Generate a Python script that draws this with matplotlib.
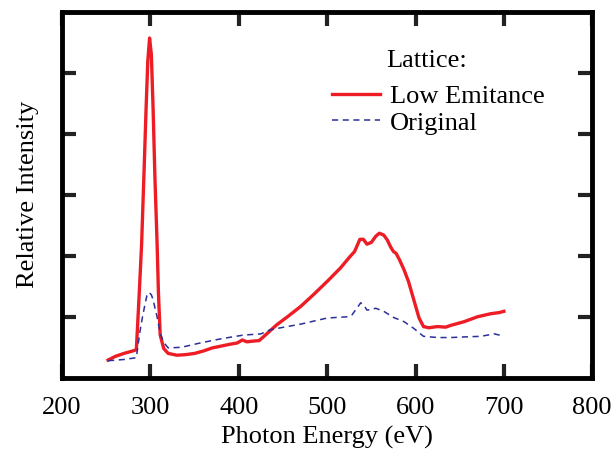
import matplotlib
matplotlib.use("Agg")
import matplotlib.pyplot as plt

plt.rcParams['font.family'] = ['Liberation Serif', 'DejaVu Serif']

# Low emitance lattice (red, solid)
low_x = [252, 260, 270, 280, 284, 287, 290, 293, 295, 297, 299, 301, 303, 305,
         307.5, 309, 311, 315, 320, 330, 340, 350, 360, 370, 380, 390, 398, 404,
         409, 415, 423, 430, 443, 455, 470, 485, 500, 515, 526, 531, 537, 541, 545,
         550, 555, 559, 564, 568, 572, 575, 578, 582, 587, 592, 598, 604, 609, 615,
         625, 634, 640, 655, 670, 685, 695, 700]
low_y = [0.29, 0.35, 0.40, 0.44, 0.46, 1.3, 2.2, 3.5, 4.4, 5.2, 5.57, 5.3, 4.4, 3.3,
         2.2, 1.4, 0.70, 0.48, 0.40, 0.37, 0.38, 0.40, 0.44, 0.49, 0.52, 0.55, 0.57, 0.62,
         0.59, 0.60, 0.61, 0.70, 0.87, 1.00, 1.17, 1.37, 1.58, 1.80, 1.99, 2.07, 2.27, 2.27, 2.19,
         2.22, 2.32, 2.37, 2.34, 2.26, 2.14, 2.07, 2.04, 1.93, 1.77, 1.58, 1.28, 0.98, 0.84, 0.82,
         0.84, 0.83, 0.86, 0.92, 1.00, 1.05, 1.07, 1.09]

# Original lattice (blue, dashed)
orig_x = [252, 270, 284, 288, 291, 294, 296, 298.5, 301, 303, 305, 307.5, 311, 315,
          320, 335, 356, 380, 405, 425, 436, 455, 470, 500, 523, 528, 533, 538, 542,
          545, 550, 555, 564, 575, 587, 598, 609, 625, 640, 655, 674, 689, 695, 700]
orig_y = [0.28, 0.30, 0.33, 0.75, 1.0, 1.22, 1.35, 1.40, 1.36, 1.28, 1.15, 1.0, 0.73, 0.58,
          0.49, 0.50, 0.57, 0.64, 0.70, 0.72, 0.79, 0.84, 0.88, 0.98, 1.0, 1.03, 1.13, 1.23, 1.18,
          1.11, 1.12, 1.14, 1.09, 0.99, 0.92, 0.81, 0.68, 0.66, 0.66, 0.67, 0.68, 0.72, 0.70, 0.68]

fig = plt.figure(figsize=(6.15, 4.53), dpi=100)
ax = fig.add_axes([0.101, 0.166, 0.862, 0.808])

ax.plot(low_x, low_y, color='#ee1c25', lw=2.4, label='Low Emitance')
ax.plot(orig_x, orig_y, color='#2b2f9a', lw=1.1, ls=(0, (4, 3)), label='Original')

ax.set_xlim(200, 800)
ax.set_ylim(0, 6)
ax.set_xticks([200, 300, 400, 500, 600, 700, 800])
ax.set_yticks([1, 2, 3, 4, 5])
ax.set_yticklabels([])
ax.tick_params(direction='in', length=10, width=3, top=True, right=True,
               labelsize=19, pad=14, color='#222222')
ax.tick_params(axis='y', pad=7)
for s in ax.spines.values():
    s.set_linewidth(3.5)

ax.set_xlabel('Photon Energy (eV)', fontsize=19, labelpad=5)
ax.set_ylabel('Relative Intensity', fontsize=19, labelpad=10)

ax.text(0.612, 0.866, 'Lattice:', transform=ax.transAxes, fontsize=19,
        ha='left', va='center')
ax.legend(loc='upper left', bbox_to_anchor=(0.49, 0.83), frameon=False,
          fontsize=19, handlelength=1.8, handletextpad=0.38, labelspacing=0.12,
          borderaxespad=0)

fig.savefig('out.png', dpi=100)
